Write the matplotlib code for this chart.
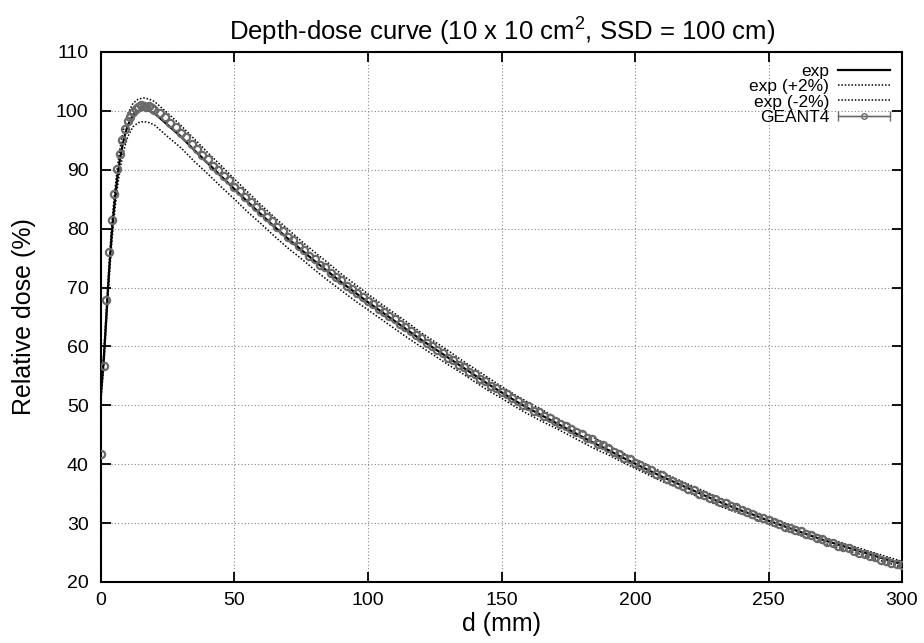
import numpy as np
import matplotlib
matplotlib.use("Agg")
import matplotlib.pyplot as plt
from matplotlib.container import ErrorbarContainer
from matplotlib.legend_handler import HandlerErrorbar

plt.rcParams['font.family'] = ['Liberation Sans', 'DejaVu Sans']
plt.rcParams['mathtext.fontset'] = 'custom'
plt.rcParams['mathtext.rm'] = 'Liberation Sans'

# measured curve (exp) and +-2% bands
d_exp = [0, 1, 2, 3, 4, 5, 6, 7, 8, 9, 10, 12, 14, 16, 18, 20,
         25, 30, 35, 40, 45, 50, 55, 60, 65, 70, 75, 80, 85, 90, 95, 100,
         105, 110, 115, 120, 125, 130, 135, 140, 145, 150, 155, 160, 165, 170, 175, 180,
         185, 190, 195, 200, 205, 210, 215, 220, 225, 230, 235, 240, 245, 250, 255, 260,
         265, 270, 275, 280, 285, 290, 295, 300]
exp_mid = [52.0, 57.5, 65.0, 72.5, 79.0, 84.0, 88.2, 91.5, 94.0, 96.0, 97.5, 99.3, 100.0, 100.2, 100.0, 99.6,
           97.6, 95.6, 93.3, 91.1, 88.9, 86.7, 84.5, 82.4, 80.3, 78.3, 76.4, 74.5, 72.7, 70.9, 69.2, 67.5,
           65.9, 64.3, 62.7, 61.1, 59.6, 58.1, 56.6, 55.1, 53.6, 52.2, 50.8, 49.5, 48.3, 47.1, 45.9, 44.7,
           43.5, 42.4, 41.2, 40.1, 39.0, 37.9, 36.9, 35.9, 34.9, 33.9, 33.0, 32.1, 31.3, 30.4, 29.6, 28.8,
           28.0, 27.2, 26.5, 25.8, 25.1, 24.4, 23.7, 23.0]
exp_up = [53.0, 58.7, 66.3, 74.0, 80.6, 85.7, 90.0, 93.3, 95.9, 97.9, 99.5, 101.3, 102.0, 102.2, 102.0, 101.6,
          99.6, 97.5, 95.2, 92.9, 90.7, 88.4, 86.2, 84.0, 81.9, 79.9, 77.9, 76.0, 74.2, 72.3, 70.6, 68.9,
          67.2, 65.6, 64.0, 62.3, 60.8, 59.3, 57.7, 56.2, 54.7, 53.2, 51.8, 50.5, 49.3, 48.0, 46.8, 45.6,
          44.4, 43.2, 42.0, 40.9, 39.8, 38.7, 37.6, 36.6, 35.6, 34.6, 33.7, 32.7, 31.9, 31.0, 30.2, 29.4,
          28.6, 27.7, 27.0, 26.3, 25.6, 24.9, 24.2, 23.5]
exp_low = [51.0, 56.4, 63.7, 71.1, 77.4, 82.3, 86.4, 89.7, 92.1, 94.1, 95.6, 97.3, 98.0, 98.2, 98.0, 97.6,
           95.6, 93.7, 91.4, 89.3, 87.1, 85.0, 82.8, 80.8, 78.7, 76.7, 74.9, 73.0, 71.2, 69.5, 67.8, 66.2,
           64.6, 63.0, 61.4, 59.9, 58.4, 56.9, 55.5, 54.0, 52.5, 51.2, 49.8, 48.5, 47.3, 46.2, 45.0, 43.8,
           42.6, 41.6, 40.4, 39.3, 38.2, 37.1, 36.2, 35.2, 34.2, 33.2, 32.3, 31.5, 30.7, 29.8, 29.0, 28.2,
           27.4, 26.7, 26.0, 25.3, 24.6, 23.9, 23.2, 22.5]

# GEANT4 simulation points
d_g4 = list(range(0, 20)) + list(range(20, 301, 2))
dose_g4 = [41.7, 56.7, 67.9, 76.1, 81.5, 85.9, 90.1, 92.7, 95.0, 96.9,
           98.2, 99.0, 99.8, 100.3, 100.6, 101.0, 100.9, 100.7, 100.8, 100.4,
           100.2, 99.6, 98.9, 98.0, 97.3, 96.3, 95.5, 94.4, 93.6, 92.5,
           91.8, 90.6, 89.9, 88.9, 88.2, 87.1, 86.4, 85.3, 84.6, 83.6,
           82.9, 81.9, 81.3, 80.3, 79.6, 78.6, 78.0, 77.0, 76.4, 75.4,
           74.9, 73.9, 73.4, 72.5, 71.8, 71.2, 70.3, 69.8, 69.1, 68.4,
           67.7, 67.2, 66.4, 65.9, 65.1, 64.6, 63.8, 63.3, 62.6, 61.9,
           61.4, 60.6, 60.1, 59.4, 58.9, 58.1, 57.7, 56.9, 56.5, 55.7,
           55.3, 54.5, 54.1, 53.3, 52.9, 52.2, 51.9, 51.2, 50.8, 50.1,
           49.8, 49.1, 48.8, 48.2, 47.8, 47.3, 46.8, 46.5, 45.9, 45.5,
           45.1, 44.5, 44.2, 43.5, 43.2, 42.7, 42.1, 41.8, 41.1, 40.8,
           40.2, 39.9, 39.3, 39.0, 38.4, 38.1, 37.5, 37.2, 36.6, 36.3,
           35.8, 35.6, 35.0, 34.8, 34.3, 34.1, 33.6, 33.4, 32.9, 32.7,
           32.2, 31.9, 31.5, 31.1, 30.9, 30.6, 30.1, 29.9, 29.4, 29.2,
           28.8, 28.6, 28.1, 27.9, 27.5, 27.3, 26.8, 26.6, 26.1, 25.9,
           25.8, 25.3, 25.0, 24.8, 24.4, 24.3, 23.8, 23.6, 23.3, 23.0,
           22.8]

fig = plt.figure(figsize=(9.24, 6.43), dpi=100)
ax = fig.add_axes([0.1093, 0.0949, 0.8669, 0.8243])

grey = '#6a6a6a'
dots = (0, (1, 1.2))
ax.plot(d_exp, exp_mid, color='black', lw=1.6, zorder=2)
ax.plot(d_exp, exp_up, color='black', lw=1.1, ls=dots, zorder=2)
ax.plot(d_exp, exp_low, color='black', lw=1.1, ls=dots, zorder=2)
ax.plot(d_g4, dose_g4, 'o', color=grey, ms=5.2, mfc='none', mew=1.6, zorder=3)

# legend proxies
h1, = ax.plot([], [], color='black', lw=1.6, label='exp')
h2, = ax.plot([], [], color='black', lw=1.1, ls=dots, label='exp (+2%)')
h3, = ax.plot([], [], color='black', lw=1.1, ls=dots, label='exp (-2%)')
h4 = ax.errorbar([np.nan], [np.nan], xerr=[1], fmt='-o', color=grey, ms=4, mfc='none',
                 mew=1.0, lw=1.0, capsize=3.5, label='GEANT4')
ax.legend(handles=[h1, h2, h3, h4], loc='upper right', frameon=False, markerfirst=False,
          fontsize=12.5, handlelength=3.0, labelspacing=0.0, borderaxespad=0.4,
          handletextpad=0.5, borderpad=0.3,
          handler_map={ErrorbarContainer: HandlerErrorbar(xerr_size=1.5)})

ax.set_xlim(0, 300)
ax.set_ylim(20, 110)
ax.set_xticks(np.arange(0, 301, 50))
ax.set_yticks(np.arange(20, 111, 10))
ax.grid(True, color='#888888', ls=(0, (1, 2)), lw=0.8)
ax.tick_params(direction='in', length=7, width=1.3, top=True, right=True, labelsize=14)
ax.tick_params(axis='x', pad=7.5)
ax.tick_params(axis='y', pad=9)
for s in ax.spines.values():
    s.set_linewidth(1.5)

ax.set_title(r'Depth-dose curve (10 x 10 cm$^2$, SSD = 100 cm)', fontsize=18.5, pad=9)
ax.set_xlabel('d (mm)', fontsize=18, labelpad=2)
ax.set_ylabel('Relative dose (%)', fontsize=18, labelpad=14)

fig.savefig('out.png', dpi=100)
